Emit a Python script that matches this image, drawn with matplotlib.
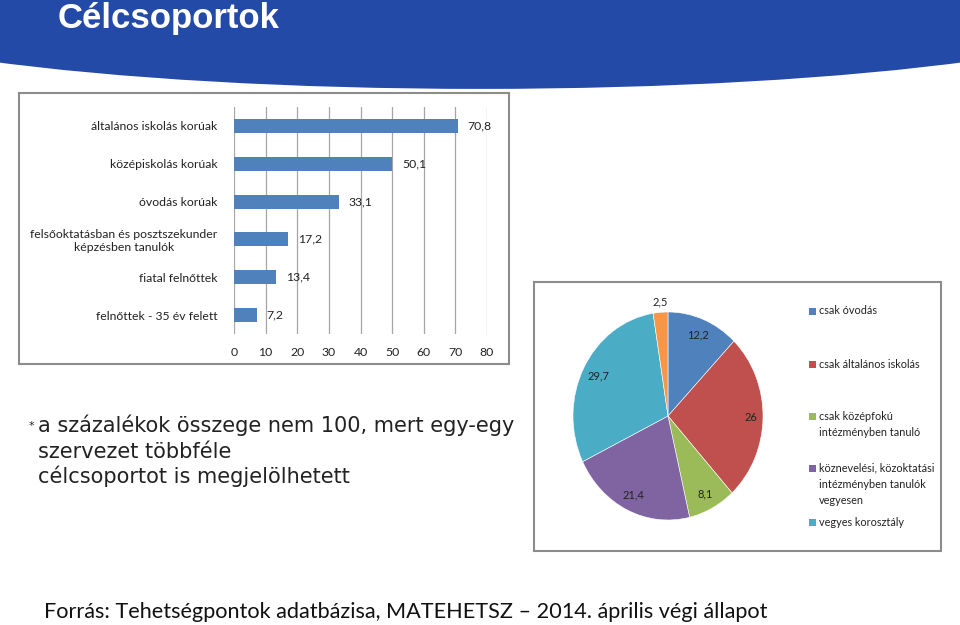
import matplotlib

matplotlib.use("Agg")
import matplotlib.pyplot as plt
from matplotlib.patches import Rectangle, Ellipse
import numpy as np

# bar chart data
bar_labels = [
    "általános iskolás korúak",
    "középiskolás korúak",
    "óvodás korúak",
    "felsőoktatásban és posztszekunder\nképzésben tanulók",
    "fiatal felnőttek",
    "felnőttek - 35 év felett",
]
bar_values = [70.8, 50.1, 33.1, 17.2, 13.4, 7.2]
bar_ticks = [0, 10, 20, 30, 40, 50, 60, 70, 80]

# pie chart data (clockwise from 12 o'clock)
pie_labels = [
    "csak óvodás",
    "csak általános iskolás",
    "csak középfokú\nintézményben tanuló",
    "köznevelési, közoktatási\nintézményben tanulók\nvegyesen",
    "vegyes korosztály",
    "",
]
pie_values = [12.2, 26, 8.1, 21.4, 29.7, 2.5]
pie_colors = ["#4F81BD", "#C0504D", "#9BBB59", "#8064A2", "#4BACC6", "#F79646"]

note_lines = [
    "a százalékok összege nem 100, mert egy-egy",
    "szervezet többféle",
    "célcsoportot is megjelölhetett",
]

chart_font = ["Lato", "DejaVu Sans"]
W, H = 960, 625

fig = plt.figure(figsize=(9.6, 6.25), dpi=100)
fig.patch.set_facecolor("white")

# background layer in pixel coordinates
bg = fig.add_axes([0, 0, 1, 1], zorder=0)
bg.set_xlim(0, W)
bg.set_ylim(H, 0)
bg.axis("off")

header_blue = "#244AA8"
bg.add_patch(Rectangle((0, 0), W, 40, color=header_blue, lw=0))
bg.add_patch(Ellipse((480, -7.6), 1400, 193, color=header_blue, lw=0))
bg.text(58, 28, "Célcsoportok", color="white", fontsize=25, fontweight="bold",
        family=["Liberation Sans Narrow", "Liberation Sans"], va="baseline")

# chart frames
bg.add_patch(Rectangle((19, 93), 490, 271, fill=False, ec="#8C8C8C", lw=1.5))
bg.add_patch(Rectangle((534, 282), 407, 269, fill=False, ec="#8C8C8C", lw=1.5))

# footnote and source
bg.text(29, 429, "*", fontsize=8, family="DejaVu Sans", va="baseline", color="#222222")
for i, line in enumerate(note_lines):
    bg.text(38, 432 + 25.5 * i, line, fontsize=15, family="DejaVu Sans",
            va="baseline", color="#222222")
bg.text(44, 618, "Forrás: Tehetségpontok adatbázisa, MATEHETSZ – 2014. április végi állapot",
        fontsize=15.6, family=chart_font, va="baseline", color="#111111")

# ---- bar chart ----
ax = fig.add_axes([234 / W, 1 - 334 / H, 253 / W, 227 / H], zorder=1)
ax.patch.set_alpha(0)
y = np.arange(len(bar_values))
bars = ax.barh(y, bar_values, height=0.37, color="#4F81BD", zorder=3)
ax.bar_label(bars, labels=[f"{v:.1f}".replace(".", ",") for v in bar_values],
             padding=7, fontsize=8.8, family=chart_font, color="#222222")
ax.set_xlim(0, 80)
ax.set_ylim(len(bar_values) - 0.5, -0.5)
ax.set_xticks(bar_ticks)
ax.set_xticklabels([str(t) for t in bar_ticks], fontsize=8.8, family=chart_font)
ax.set_yticks(y)
ax.set_yticklabels(bar_labels, fontsize=8.8, family=chart_font, multialignment="center")
ax.grid(axis="x", color="#A6A6A6", lw=0.9, zorder=0)
for side in ["top", "right", "bottom", "left"]:
    ax.spines[side].set_visible(False)
ax.tick_params(axis="x", length=0, pad=9, labelcolor="#222222")
ax.tick_params(axis="y", length=0, pad=12, labelcolor="#222222")

# ---- pie chart ----
pax = fig.add_axes([573 / W, 1 - 520 / H, 190 / W, 208 / H], zorder=1)
wedges, _ = pax.pie(pie_values, colors=pie_colors, startangle=90, counterclock=False,
                    wedgeprops=dict(edgecolor="white", linewidth=0.4))
pax.set_aspect("auto")
pax.set_xlim(-1, 1)
pax.set_ylim(-1, 1)
label_dist = [0.84, 0.87, 0.85, 0.84, 0.83, 1.1]
for w, v, d in zip(wedges, pie_values, label_dist):
    ang = np.deg2rad((w.theta1 + w.theta2) / 2)
    txt = f"{v:g}".replace(".", ",")
    pax.text(d * np.cos(ang), d * np.sin(ang), txt, ha="center", va="center",
             fontsize=8, family=chart_font, color="#222222", clip_on=False)

# legend (first line aligned with the key, as in the original)
legend_y = [311, 364, 416, 468, 522]
for lab, col, ly in zip(pie_labels[:5], pie_colors[:5], legend_y):
    bg.add_patch(Rectangle((809, ly - 3.5), 7, 7, color=col, lw=0))
    bg.text(819, ly - 5.5, lab, fontsize=7.8, family=chart_font, va="top",
            linespacing=1.6, color="#222222")

fig.savefig("out.png", dpi=100)
